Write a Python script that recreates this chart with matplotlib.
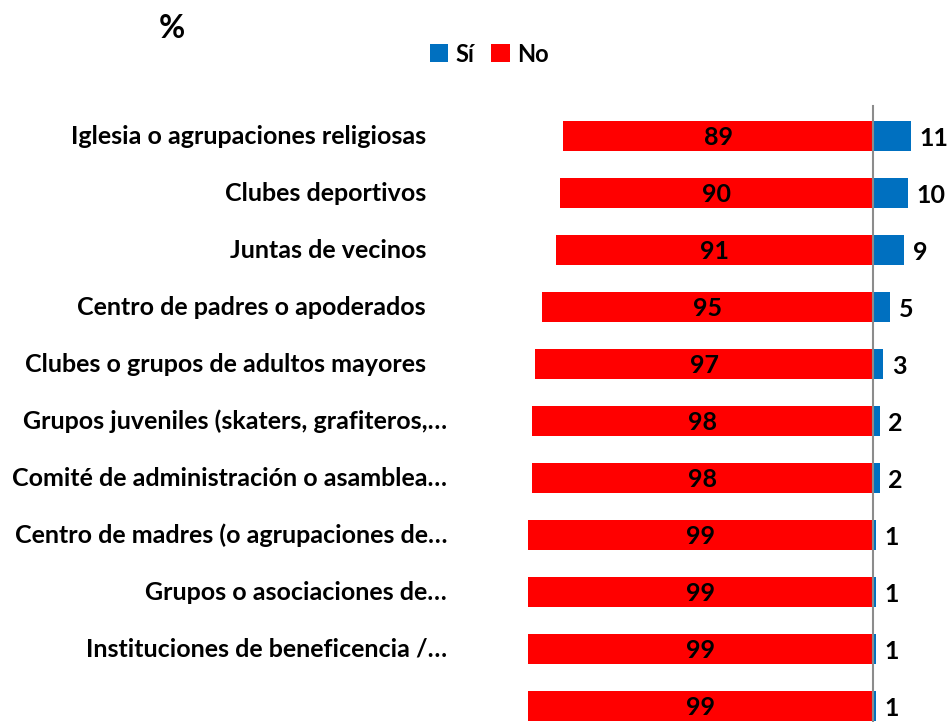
import matplotlib
matplotlib.use("Agg")
import matplotlib.pyplot as plt
from matplotlib.patches import Patch

plt.rcParams["font.family"] = ["Lato", "DejaVu Sans"]
plt.rcParams["font.weight"] = "bold"

# Données
categorias = [
    "Iglesia o agrupaciones religiosas",
    "Clubes deportivos",
    "Juntas de vecinos",
    "Centro de padres o apoderados",
    "Clubes o grupos de adultos mayores",
    "Grupos juveniles (skaters, grafiteros,…",
    "Comité de administración o asamblea…",
    "Centro de madres (o agrupaciones de…",
    "Grupos o asociaciones de…",
    "Instituciones de beneficencia /…",
    "",
]
si = [11, 10, 9, 5, 3, 2, 2, 1, 1, 1, 1]
no = [89, 90, 91, 95, 97, 98, 98, 99, 99, 99, 99]

COL_SI = "#0070C0"
COL_NO = "#FF0000"

W, H = 947, 722
fig = plt.figure(figsize=(W / 100, H / 100), dpi=100)
fig.patch.set_facecolor("white")

# axe : x=0 au pixel 873, ~3.48 px par point
px_per_unit = 3.48
x0_px = 873
ax_left_px = 460
ax = fig.add_axes([ax_left_px / W, 0, 1 - ax_left_px / W, 622 / H])
ax.set_xlim((ax_left_px - x0_px) / px_per_unit, (W - x0_px) / px_per_unit)
ax.set_ylim(10.28, -0.632)

y = list(range(len(categorias)))
ax.barh(y, [-v for v in no], height=0.52, color=COL_NO, edgecolor="none", zorder=2)
ax.barh(y, si, height=0.52, color=COL_SI, edgecolor="none", zorder=2)
ax.axvline(0, ymin=0, ymax=0.99, color="#8c8c8c", linewidth=1.5, zorder=3)

# Étiquettes de données
for i, (s, n) in enumerate(zip(si, no)):
    ax.text(-n / 2, i + 0.02, str(n), ha="center", va="center",
            fontsize=18, fontweight="bold", color="black", zorder=4)
    ax.text(s + 2.4, i + 0.05, str(s), ha="left", va="center",
            fontsize=18, fontweight="bold", color="black", zorder=4)

# Catégories
for i, cat in enumerate(categorias):
    x_lab = (447 - x0_px) / px_per_unit
    if cat and not cat.endswith("…"):
        x_lab = (426 - x0_px) / px_per_unit
    ax.text(x_lab, i, cat, ha="right", va="center", fontsize=18,
            fontweight="bold", color="black", clip_on=False)

ax.set_axis_off()

fig.text(172 / W, 1 - 28 / H, "%", ha="center", va="center",
         fontsize=23, fontweight="bold")

handles = [Patch(facecolor=COL_SI, label="Sí"), Patch(facecolor=COL_NO, label="No")]
fig.legend(handles=handles, loc="center", bbox_to_anchor=(489 / W, 1 - 54 / H),
           ncol=2, frameon=False, handlelength=0.8, handleheight=0.8,
           handletextpad=0.3, columnspacing=0.7, prop={"weight": "bold", "size": 17})

fig.savefig("out.png", dpi=100, facecolor="white")
